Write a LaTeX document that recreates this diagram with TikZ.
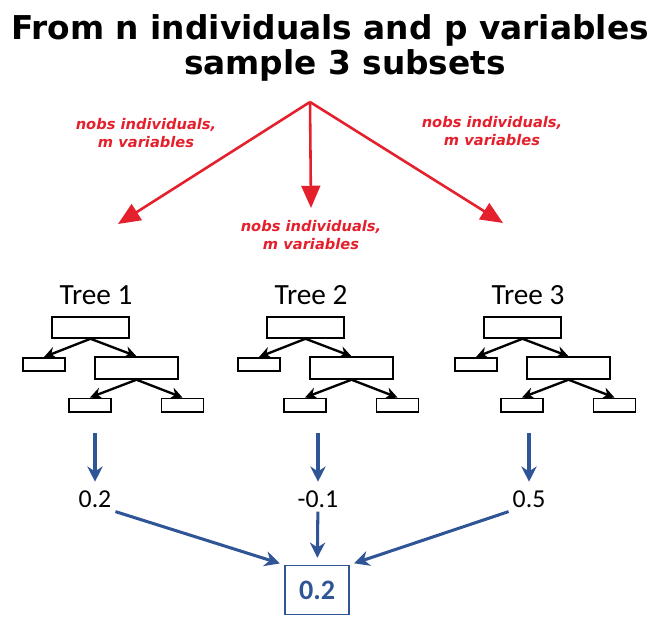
\documentclass[tikz,border=0pt]{standalone}
\usepackage{fontspec}
\setmainfont{Carlito}
\newfontfamily\headfont{DejaVu Sans}
\usepackage{tikz}
\usetikzlibrary{arrows.meta}

\definecolor{samplered}{RGB}{228,32,45}
\definecolor{meanblue}{RGB}{47,85,151}

\begin{document}
\begin{tikzpicture}[x=0.03cm, y=-0.03cm,
    headline/.style={font=\headfont\bfseries\fontsize{28}{32}\selectfont},
    sublabel/.style={text=samplered, align=center, font=\headfont\bfseries\itshape\fontsize{12.5}{15.5}\selectfont},
    redarrow/.style={draw=samplered, line width=2.2pt, -{Triangle[length=19pt, width=16pt]}},
    treebox/.style={draw, line width=1.3pt, inner sep=0pt},
    rootbox/.style={treebox, minimum width=65.5pt, minimum height=17.9pt},
    splitbox/.style={treebox, minimum width=70.6pt, minimum height=18.7pt},
    leafbox/.style={treebox, minimum width=35.7pt, minimum height=11.5pt},
    treearrow/.style={line width=2pt, -{Stealth[length=10pt, width=10pt]}},
    meanarrow/.style={draw=meanblue, line width=2.6pt, -{Stealth[length=13pt, width=13pt]}},
    value/.style={font=\fontsize{22}{26}\selectfont}]
    \useasboundingbox (0,0) rectangle (655,617);

    % title
    \node[headline] (head1) at (330,30) {From n individuals and p variables};
    \node[headline] (head2) at (345,65) {sample 3 subsets};

    % sampling
    \coordinate (split) at (310,102);
    \coordinate (sub1) at (118,224);
    \coordinate (sub2) at (311,208);
    \coordinate (sub3) at (503,223);
    \draw[redarrow] (split) -- (sub1);
    \draw[redarrow] (split) -- (sub2);
    \draw[redarrow] (split) -- (sub3);
    \node[sublabel] (lab1) at (146,133) {nobs individuals,\\m variables};
    \node[sublabel] (lab2) at (311,235) {nobs individuals,\\m variables};
    \node[sublabel] (lab3) at (492,131) {nobs individuals,\\m variables};

    % trees
    \foreach \i/\dx/\vx/\val in {1/0/95/0.2, 2/215/318/-0.1, 3/432/529/0.5} {
        \node[font=\fontsize{25}{30}\selectfont] (tree\i) at (96+\dx,295) {Tree \i};
        \node[rootbox] (root\i) at (90.5+\dx,327.5) {};
        \node[leafbox] (leafA\i) at (44+\dx,364.5) {};
        \node[splitbox] (node\i) at (136.5+\dx,368) {};
        \node[leafbox] (leafB\i) at (90+\dx,405) {};
        \node[leafbox] (leafC\i) at (182.5+\dx,405) {};
        \draw[treearrow] (root\i.south) -- (leafA\i.north);
        \draw[treearrow] (root\i.south) -- (node\i.north);
        \draw[treearrow] (node\i.south) -- (leafB\i.north);
        \draw[treearrow] (node\i.south) -- (leafC\i.north);
        % prediction
        \coordinate (out\i) at (\vx,433);
        \node[value] (val\i) at (\vx,499) {\val};
        \draw[meanarrow, shorten >=4pt] (out\i) -- (val\i);
    }

    % average
    \node[draw=meanblue, line width=1.3pt, minimum width=54.4pt, minimum height=41.7pt,
        text=meanblue, font=\bfseries\fontsize{24}{28}\selectfont] (final) at (317,590) {0.2};
    \draw[meanarrow, shorten >=4pt] (val1.south east) -- (final.north west);
    \draw[meanarrow, shorten >=6pt] (val2) -- (final);
    \draw[meanarrow, shorten >=4pt] (val3.south west) -- (final.north east);
\end{tikzpicture}
\end{document}
